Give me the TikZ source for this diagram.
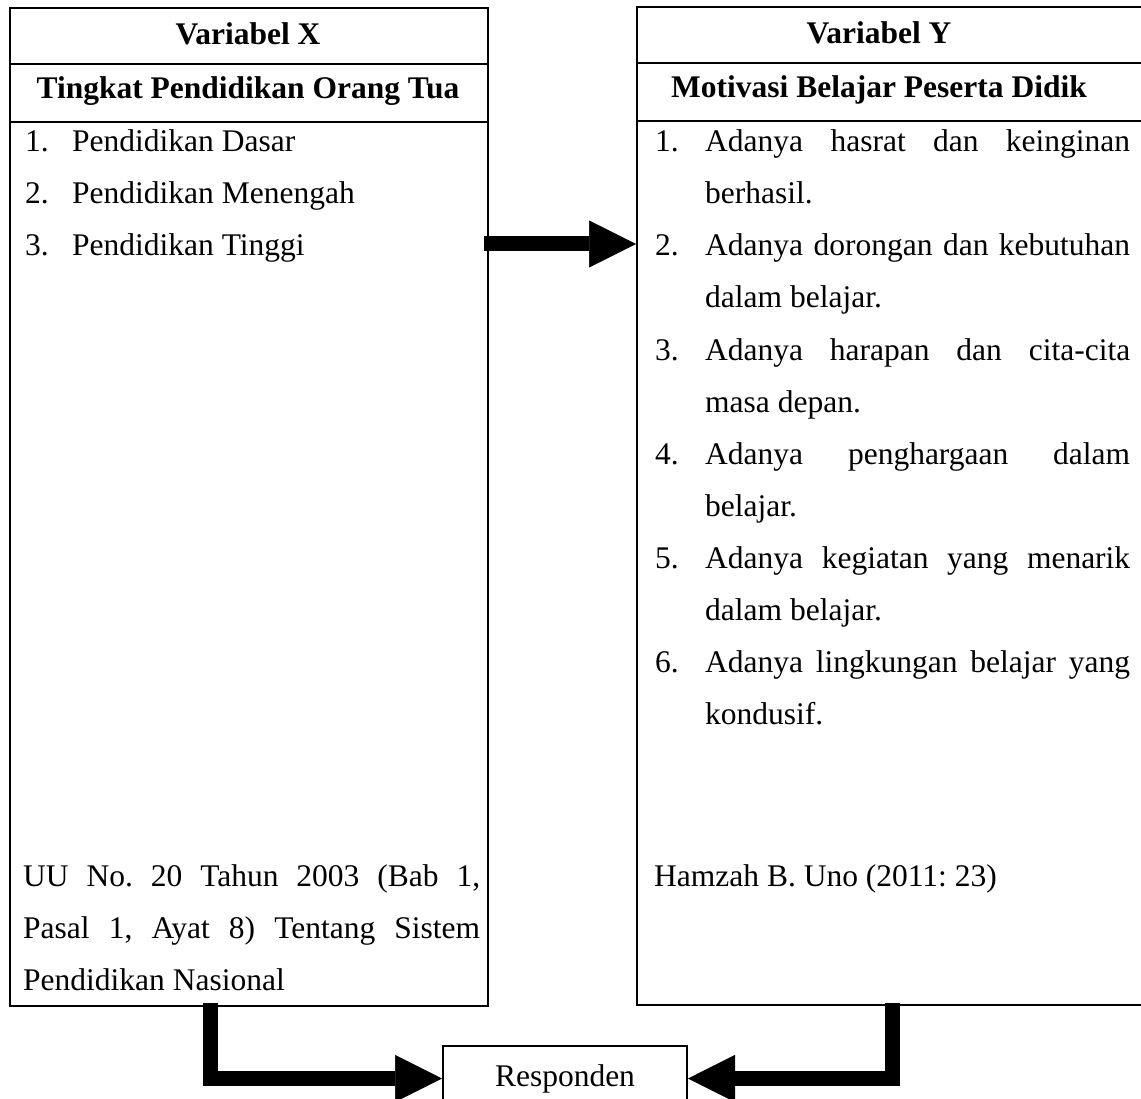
\documentclass[tikz,border=0pt]{standalone}
\usepackage{fontspec}
\setmainfont{Liberation Serif}
\usetikzlibrary{arrows.meta}
\tolerance=10000
\hyphenpenalty=10000
\exhyphenpenalty=10000
\frenchspacing
\newcommand\bodyfont{\fontsize{31.5pt}{52pt}\selectfont}
\tikzstyle{cell} = [draw,line width=2pt,rectangle,inner sep=0pt,anchor=north west]
\tikzstyle{head} = [anchor=base,inner sep=0pt,font=\bodyfont\bfseries]
\tikzstyle{txt} = [anchor=base west,inner sep=0pt,font=\bodyfont]
\tikzstyle{para} = [txt,align=justify,text width=#1]
\tikzstyle{resp} = [draw,line width=2pt,minimum width=244pt,minimum height=66pt,inner sep=0pt,font=\bodyfont]
\tikzstyle{fat} = [line width=15pt,-{Triangle[length=47pt,width=47pt,line width=0.5pt]}]

\begin{document}
\begin{tikzpicture}[x=1pt,y=-1pt]
\clip (0,0) rectangle (1141,1099);

% Variabel X
\node[cell,minimum width=478pt,minimum height=56pt] (xhead) at (9,7) {};
\node[cell,minimum width=478pt,minimum height=58pt] (xname) at (9,63) {};
\node[cell,minimum width=478pt,minimum height=884pt] (xbody) at (9,121) {};
\node[head] (xtitle) at (248,45) {Variabel X};
\node[head] (xsub) at (248,99) {Tingkat Pendidikan Orang Tua};

\node[txt] (x1n) at (25,152) {1.};
\node[txt] (x1) at (72,152) {Pendidikan Dasar};
\node[txt] (x2n) at (25,204) {2.};
\node[txt] (x2) at (72,204) {Pendidikan Menengah};
\node[txt] (x3n) at (25,256) {3.};
\node[txt] (x3) at (72,256) {Pendidikan Tinggi};
\node[para=457pt] (xref) at (23,886) {UU No. 20 Tahun 2003 (Bab 1,\linebreak Pasal 1, Ayat 8) Tentang Sistem\linebreak Pendidikan Nasional};

% Variabel Y
\node[cell,minimum width=510pt,minimum height=56pt] (yhead) at (636,6) {};
\node[cell,minimum width=510pt,minimum height=58pt] (yname) at (636,62) {};
\node[cell,minimum width=510pt,minimum height=884pt] (ybody) at (636,120) {};
\node[head] (ytitle) at (879,44) {Variabel Y};
\node[head] (ysub) at (879,98) {Motivasi Belajar Peserta Didik};

\node[txt] (y1n) at (655,152) {1.};
\node[para=425pt] (y1) at (705,152) {Adanya hasrat dan keinginan\linebreak berhasil.};
\node[txt] (y2n) at (655,256) {2.};
\node[para=425pt] (y2) at (705,256) {Adanya dorongan dan kebutuhan\linebreak dalam belajar.};
\node[txt] (y3n) at (655,360) {3.};
\node[para=425pt] (y3) at (705,360) {Adanya harapan dan cita-cita\linebreak masa depan.};
\node[txt] (y4n) at (655,464) {4.};
\node[para=425pt] (y4) at (705,464) {Adanya penghargaan dalam\linebreak belajar.};
\node[txt] (y5n) at (655,568) {5.};
\node[para=425pt] (y5) at (705,568) {Adanya kegiatan yang menarik\linebreak dalam belajar.};
\node[txt] (y6n) at (655,672) {6.};
\node[para=425pt] (y6) at (705,672) {Adanya lingkungan belajar yang\linebreak kondusif.};
\node[txt] (yref) at (654,886) {Hamzah B. Uno (2011: 23)};

% Responden
\node[resp] (resp) at (565,1078.5) {Responden};

\coordinate (xmid) at (484,244);
\coordinate (xout) at (210.5,1003);
\coordinate (yout) at (892,1003);

\draw[fat] (xmid) -- (xmid -| ybody.west);
\draw[fat] (xout) |- (resp.west);
\draw[fat] (yout) |- (resp.east);

\end{tikzpicture}
\end{document}
